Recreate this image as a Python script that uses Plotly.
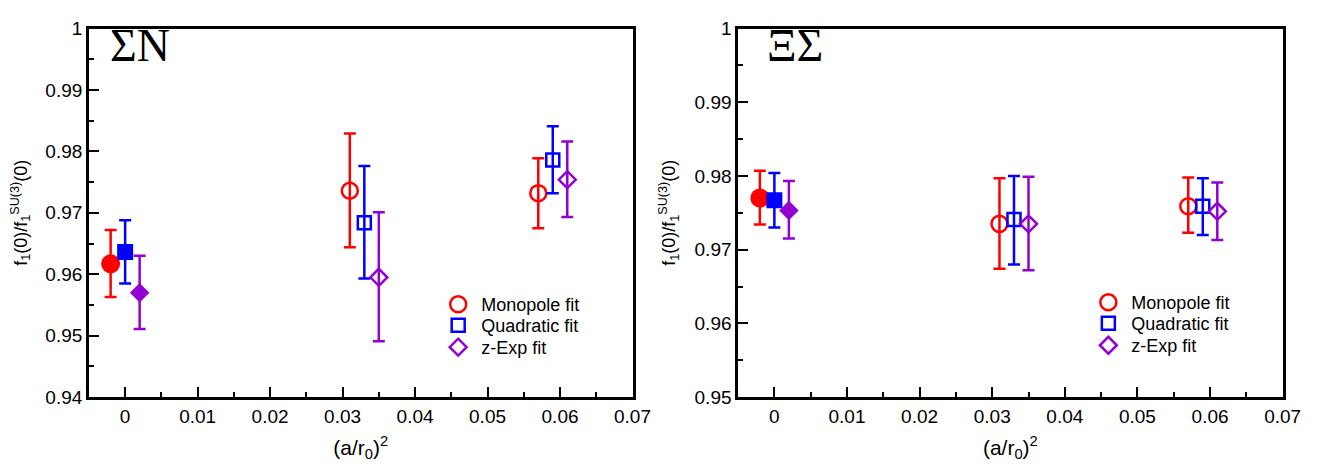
import plotly.graph_objects as go

# ---------------- data ----------------
x_mono = [-0.002, 0.031, 0.057]
x_quad = [0.000, 0.033, 0.059]
x_zexp = [0.002, 0.035, 0.061]

# Sigma N panel
sn_mono_y = [0.9617, 0.9736, 0.9732]
sn_mono_hi = [0.9672, 0.9829, 0.9789]
sn_mono_lo = [0.9563, 0.9644, 0.9675]
sn_quad_y = [0.9636, 0.9684, 0.9786]
sn_quad_hi = [0.9688, 0.9776, 0.9841]
sn_quad_lo = [0.9585, 0.9593, 0.9732]
sn_zexp_y = [0.9570, 0.9595, 0.9754]
sn_zexp_hi = [0.9630, 0.9701, 0.9816]
sn_zexp_lo = [0.9511, 0.9491, 0.9693]

# Xi Sigma panel
xs_mono_y = [0.9770, 0.9735, 0.9759]
xs_mono_hi = [0.9807, 0.9797, 0.9798]
xs_mono_lo = [0.9734, 0.9674, 0.9723]
xs_quad_y = [0.9767, 0.9741, 0.9759]
xs_quad_hi = [0.9804, 0.9800, 0.9797]
xs_quad_lo = [0.9730, 0.9680, 0.9720]
xs_zexp_y = [0.9753, 0.9735, 0.9752]
xs_zexp_hi = [0.9793, 0.9799, 0.9791]
xs_zexp_lo = [0.9715, 0.9672, 0.9713]

series_names = ["Monopole fit", "Quadratic fit", "z-Exp fit"]
x_ticks = [0, 0.01, 0.02, 0.03, 0.04, 0.05, 0.06, 0.07]
x_ticktext = ["0", "0.01", "0.02", "0.03", "0.04", "0.05", "0.06", "0.07"]
y_ticks_sn = [0.94, 0.95, 0.96, 0.97, 0.98, 0.99, 1.0]
y_ticktext_sn = ["0.94", "0.95", "0.96", "0.97", "0.98", "0.99", "1"]
y_ticks_xs = [0.95, 0.96, 0.97, 0.98, 0.99, 1.0]
y_ticktext_xs = ["0.95", "0.96", "0.97", "0.98", "0.99", "1"]

# ---------------- styles ----------------
RED = "#FF0000"
BLUE = "#0000FF"
PURPLE = "#9400D3"
FONT = "Liberation Sans"
SERIF = "Liberation Serif"

styles = [
    dict(color=RED, sym="circle", fsize=19, osize=16),
    dict(color=BLUE, sym="square", fsize=16, osize=13),
    dict(color=PURPLE, sym="diamond", fsize=15, osize=13),
]

W, H = 1341, 466

# legend row centres (pixels from top) and legend left edges
left_rows = [300, 322, 345]
right_rows = [298, 320, 343]
left_leg_x = 433
right_leg_x = 1092

fig = go.Figure()


def add_panel(xa, ya, leg_ids, xs_list, ys_list, his, los):
    for i, (xv, yv, hv, lv) in enumerate(zip(xs_list, ys_list, his, los)):
        st = styles[i]
        plus = [h - y for h, y in zip(hv, yv)]
        minus = [y - l for y, l in zip(yv, lv)]
        # filled point (continuum-extrapolated)
        fig.add_trace(go.Scatter(
            x=xv[:1], y=yv[:1], mode="markers", xaxis=xa, yaxis=ya,
            showlegend=False,
            marker=dict(symbol=st["sym"], size=st["fsize"], color=st["color"],
                        line=dict(width=0)),
            error_y=dict(type="data", symmetric=False, array=plus[:1],
                         arrayminus=minus[:1], color=st["color"],
                         thickness=2.5, width=6),
        ))
        # open points
        fig.add_trace(go.Scatter(
            x=xv[1:], y=yv[1:], mode="markers", xaxis=xa, yaxis=ya,
            name=series_names[i], legend=leg_ids[i], showlegend=True,
            marker=dict(symbol=st["sym"] + "-open", size=st["osize"],
                        color=st["color"], line=dict(width=2.5, color=st["color"])),
            error_y=dict(type="data", symmetric=False, array=plus[1:],
                         arrayminus=minus[1:], color=st["color"],
                         thickness=2.5, width=6),
        ))


add_panel("x", "y", ["legend", "legend2", "legend3"],
          [x_mono, x_quad, x_zexp],
          [sn_mono_y, sn_quad_y, sn_zexp_y],
          [sn_mono_hi, sn_quad_hi, sn_zexp_hi],
          [sn_mono_lo, sn_quad_lo, sn_zexp_lo])
add_panel("x2", "y2", ["legend4", "legend5", "legend6"],
          [x_mono, x_quad, x_zexp],
          [xs_mono_y, xs_quad_y, xs_zexp_y],
          [xs_mono_hi, xs_quad_hi, xs_zexp_hi],
          [xs_mono_lo, xs_quad_lo, xs_zexp_lo])

yd = [1 - 397 / H, 1 - 11 / H]

axis_common = dict(
    showline=True, linecolor="black", linewidth=2.5, mirror=True,
    ticks="inside", ticklen=10, tickwidth=2, tickcolor="black",
    showgrid=False, zeroline=False,
    tickfont=dict(family=FONT, size=19, color="black"),
)
xminor = dict(ticks="inside", ticklen=5, tickwidth=2, tickcolor="black", dtick=0.005, showgrid=False)
yminor = dict(ticks="inside", ticklen=5, tickwidth=2, tickcolor="black", dtick=0.005, showgrid=False)

xtitle = dict(text="(a/r<sub>0</sub>)<sup>2</sup>", font=dict(family=FONT, size=21, color="black"))
ytitle = dict(text="f<sub>1</sub>(0)/f<sub>1</sub><sup>SU(3)</sup>(0)",
              font=dict(family=FONT, size=18, color="black"))


def leg(xpx, ypx):
    return dict(x=xpx / W, y=1 - ypx / H, xanchor="left", yanchor="middle",
                bgcolor="rgba(0,0,0,0)", itemwidth=36,
                font=dict(family=FONT, size=18, color="black"))


fig.update_layout(
    width=W, height=H,
    margin=dict(l=0, r=0, t=0, b=0),
    paper_bgcolor="white", plot_bgcolor="white",
    font=dict(family=FONT, color="black"),
    xaxis=dict(domain=[82 / W, 633 / W], range=[-0.005, 0.07], anchor="y",
               tickvals=x_ticks, ticktext=x_ticktext, minor=xminor, title=xtitle,
               **axis_common),
    yaxis=dict(domain=yd, range=[0.94, 1.0], anchor="x",
               tickvals=y_ticks_sn, ticktext=y_ticktext_sn, minor=yminor, title=ytitle,
               **axis_common),
    xaxis2=dict(domain=[740 / W, 1292 / W], range=[-0.005, 0.07], anchor="y2",
                tickvals=x_ticks, ticktext=x_ticktext, minor=xminor, title=xtitle,
                **axis_common),
    yaxis2=dict(domain=yd, range=[0.95, 1.0], anchor="x2",
                tickvals=y_ticks_xs, ticktext=y_ticktext_xs, minor=yminor, title=ytitle,
                **axis_common),
    legend=leg(left_leg_x, left_rows[0]),
    legend2=leg(left_leg_x, left_rows[1]),
    legend3=leg(left_leg_x, left_rows[2]),
    legend4=leg(right_leg_x, right_rows[0]),
    legend5=leg(right_leg_x, right_rows[1]),
    legend6=leg(right_leg_x, right_rows[2]),
    annotations=[
        dict(text="ΣN", x=101 / W, y=1 - 29 / H, xref="paper", yref="paper",
             xanchor="left", yanchor="middle", showarrow=False,
             font=dict(family=SERIF, size=46, color="black")),
        dict(text="ΞΣ", x=767 / W, y=1 - 29 / H, xref="paper", yref="paper",
             xanchor="left", yanchor="middle", showarrow=False,
             font=dict(family=SERIF, size=46, color="black")),
    ],
)

fig.write_html("out.html")
